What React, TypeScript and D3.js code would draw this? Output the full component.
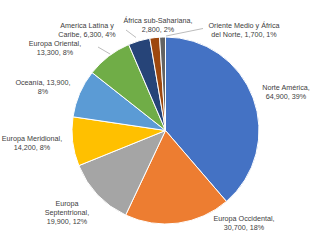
import React from "react";
import * as d3 from "d3";

const regions = [
  "Norte América",
  "Europa Occidental",
  "Europa Septentrional",
  "Europa Meridional",
  "Oceanía",
  "Europa Oriental",
  "America Latina y Caribe",
  "África sub-Sahariana",
  "Oriente Medio y África del Norte",
];
const values = [64900, 30700, 19900, 14200, 13900, 13300, 6300, 2800, 1700];
const percents = ["39%", "18%", "12%", "8%", "8%", "8%", "4%", "2%", "1%"];
const colors = ["#4472C4", "#ED7D31", "#A5A5A5", "#FFC000", "#5B9BD5", "#70AD47", "#264478", "#9E480E", "#636363"];

// label line breaks (text), and layout positions (center x, first line center y)
const labelLines = [
  ["Norte América,", "64,900, 39%"],
  ["Europa Occidental,", "30,700, 18%"],
  ["Europa", "Septentrional,", "19,900, 12%"],
  ["Europa Meridional,", "14,200, 8%"],
  ["Oceanía, 13,900,", "8%"],
  ["Europa Oriental,", "13,300, 8%"],
  ["America Latina y", "Caribe, 6,300, 4%"],
  ["África sub-Sahariana,", "2,800, 2%"],
  ["Oriente Medio y África", "del Norte, 1,700, 1%"],
];
const labelPos = [
  [286, 87], [244, 218], [67, 203], [32, 138], [43, 82], [55, 43], [87, 25], [158, 20], [244, 25],
];
const leaders: (number[] | null)[] = [
  null, null, null, null, null,
  [98, 47, 110, 54],
  [126, 30, 136, 37.5],
  null,
  [166, 36, 203, 28.5],
];

export default function App() {
  const W = 328, H = 240;
  const cx = 165.5, cy = 130.5, r = 93.5;
  const pie = d3.pie<number>().sort(null).value((d) => d)(values);
  const arc = d3.arc<d3.PieArcDatum<number>>().innerRadius(0).outerRadius(r);
  return (
    <svg width={W} height={H} style={{ position: "absolute", left: 0, top: 0, background: "#fff" }}>
      <g transform={`translate(${cx},${cy})`}>
        {pie.map((p, i) => (
          <path key={regions[i]} d={arc(p) || ""} fill={colors[i]} stroke="#fff" strokeWidth={1} />
        ))}
      </g>
      {leaders.map((l, i) =>
        l ? <line key={"l" + i} x1={l[0]} y1={l[1]} x2={l[2]} y2={l[3]} stroke="#A6A6A6" strokeWidth={0.75} /> : null
      )}
      {labelLines.map((lines, i) => (
        <text key={"t" + i} x={labelPos[i][0]} y={labelPos[i][1]} textAnchor="middle"
          fontFamily="'Liberation Sans', Arial, sans-serif" fontSize={7.2} fill="#404040">
          {lines.map((ln, j) => (
            <tspan key={j} x={labelPos[i][0]} dy={j === 0 ? "0.35em" : 9}>{ln}</tspan>
          ))}
        </text>
      ))}
    </svg>
  );
}
